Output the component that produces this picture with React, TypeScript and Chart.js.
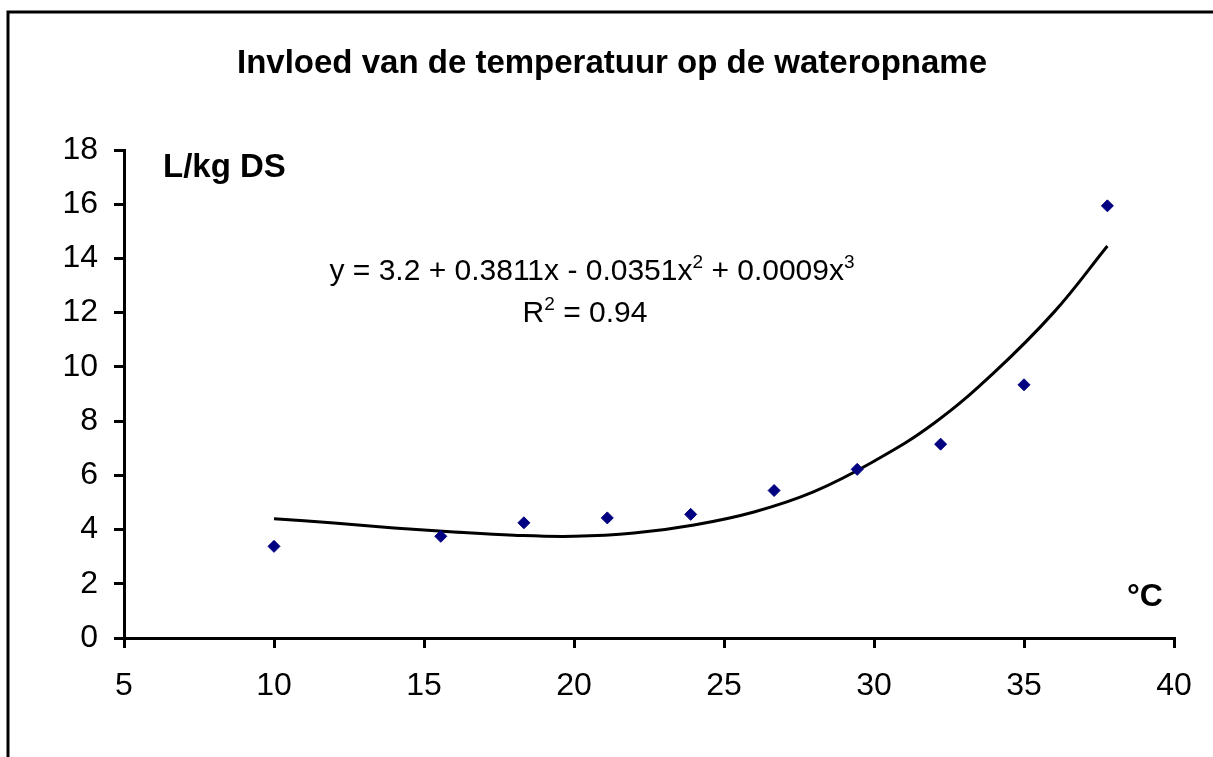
import React, { useEffect, useRef } from "react";
import { Chart, registerables } from "chart.js";

Chart.register(...registerables);

const tempC = [10, 15.56, 18.33, 21.11, 23.89, 26.67, 29.44, 32.22, 35, 37.78];
const uptake = [3.38, 3.75, 4.25, 4.43, 4.56, 5.44, 6.22, 7.15, 9.34, 15.94];

const trendX = [10, 12, 14, 16, 18, 20, 22, 24, 26, 28, 30, 32, 34, 36, 37.78];
const trendY = [4.4, 4.24, 4.06, 3.91, 3.79, 3.75, 3.87, 4.17, 4.65, 5.4, 6.52, 7.92, 9.79, 12.02, 14.46];

const titleText = "Invloed van de temperatuur op de wateropname";
const yUnitText = "L/kg DS";
const xUnitText = "°C";
const eqParts = ["y = 3.2 + 0.3811x - 0.0351x", "2", " + 0.0009x", "3"];
const r2Parts = ["R", "2", " = 0.94"];

const FONT = "'Liberation Sans', Arial, sans-serif";

const textPlugin = {
  id: "textPlugin",
  afterDraw(chart: any) {
    const ctx = chart.ctx as CanvasRenderingContext2D;
    ctx.save();
    // frame
    ctx.strokeStyle = "#000";
    ctx.lineWidth = 3;
    ctx.beginPath();
    ctx.moveTo(8, 757);
    ctx.lineTo(8, 12);
    ctx.lineTo(1213, 12);
    ctx.stroke();

    ctx.fillStyle = "#000";
    ctx.textBaseline = "alphabetic";
    // title
    ctx.font = `bold 33px ${FONT}`;
    ctx.textAlign = "center";
    ctx.fillText(titleText, 612, 73);
    // units
    ctx.textAlign = "left";
    ctx.font = `bold 33px ${FONT}`;
    ctx.fillText(yUnitText, 163, 177);
    ctx.font = `bold 32px ${FONT}`;
    ctx.fillText(xUnitText, 1127, 606);

    // equation with superscripts
    const drawRich = (parts: string[], cx: number, baseline: number) => {
      const big = `30px ${FONT}`;
      const small = `19px ${FONT}`;
      let total = 0;
      parts.forEach((p, i) => {
        ctx.font = i % 2 === 1 ? small : big;
        total += ctx.measureText(p).width;
      });
      let x = cx - total / 2;
      parts.forEach((p, i) => {
        const sup = i % 2 === 1;
        ctx.font = sup ? small : big;
        ctx.fillText(p, x, sup ? baseline - 12 : baseline);
        x += ctx.measureText(p).width;
      });
    };
    ctx.textAlign = "left";
    drawRich(eqParts, 592, 280);
    drawRich(r2Parts, 585, 322);
    ctx.restore();
  },
};

export default function App() {
  const ref = useRef<HTMLCanvasElement>(null);
  useEffect(() => {
    if (!ref.current) return;
    const chart = new Chart(ref.current, {
      type: "scatter",
      data: {
        datasets: [
          {
            label: "data",
            data: tempC.map((x, i) => ({ x, y: uptake[i] })),
            pointStyle: "rectRot",
            pointRadius: 6,
            pointBackgroundColor: "#000080",
            pointBorderColor: "#000080",
            pointBorderWidth: 1,
            showLine: false,
          },
          {
            label: "trend",
            data: trendX.map((x, i) => ({ x, y: trendY[i] })),
            showLine: true,
            borderColor: "#000",
            borderWidth: 3,
            pointRadius: 0,
            tension: 0.4,
            fill: false,
          },
        ],
      },
      options: {
        responsive: false,
        animation: false,
        layout: { padding: { left: 0, top: 150, right: 39, bottom: 0 } },
        plugins: {
          legend: { display: false },
          title: { display: false },
          tooltip: { enabled: false },
        },
        scales: {
          x: {
            type: "linear",
            min: 5,
            max: 40,
            afterFit: (s: any) => {
              s.height = 119;
            },
            ticks: {
              stepSize: 5,
              color: "#000",
              font: { family: FONT, size: 32 },
              padding: 19,
              maxRotation: 0,
            },
            grid: {
              drawOnChartArea: false,
              drawTicks: true,
              tickLength: 10,
              color: "#000",
              lineWidth: 3,
            },
            border: { display: true, color: "#000", width: 3 },
          },
          y: {
            type: "linear",
            min: 0,
            max: 18,
            afterFit: (s: any) => {
              s.width = 124;
            },
            ticks: {
              stepSize: 2,
              color: "#000",
              font: { family: FONT, size: 32 },
              padding: 16,
            },
            grid: {
              drawOnChartArea: false,
              drawTicks: true,
              tickLength: 10,
              color: "#000",
              lineWidth: 3,
            },
            border: { display: true, color: "#000", width: 3 },
          },
        },
      },
      plugins: [textPlugin],
    });
    return () => chart.destroy();
  }, []);
  return (
    <div style={{ position: "absolute", left: 0, top: 0, width: 1213, height: 757, background: "#fff" }}>
      <canvas ref={ref} width={1213} height={757} style={{ display: "block" }} />
    </div>
  );
}
